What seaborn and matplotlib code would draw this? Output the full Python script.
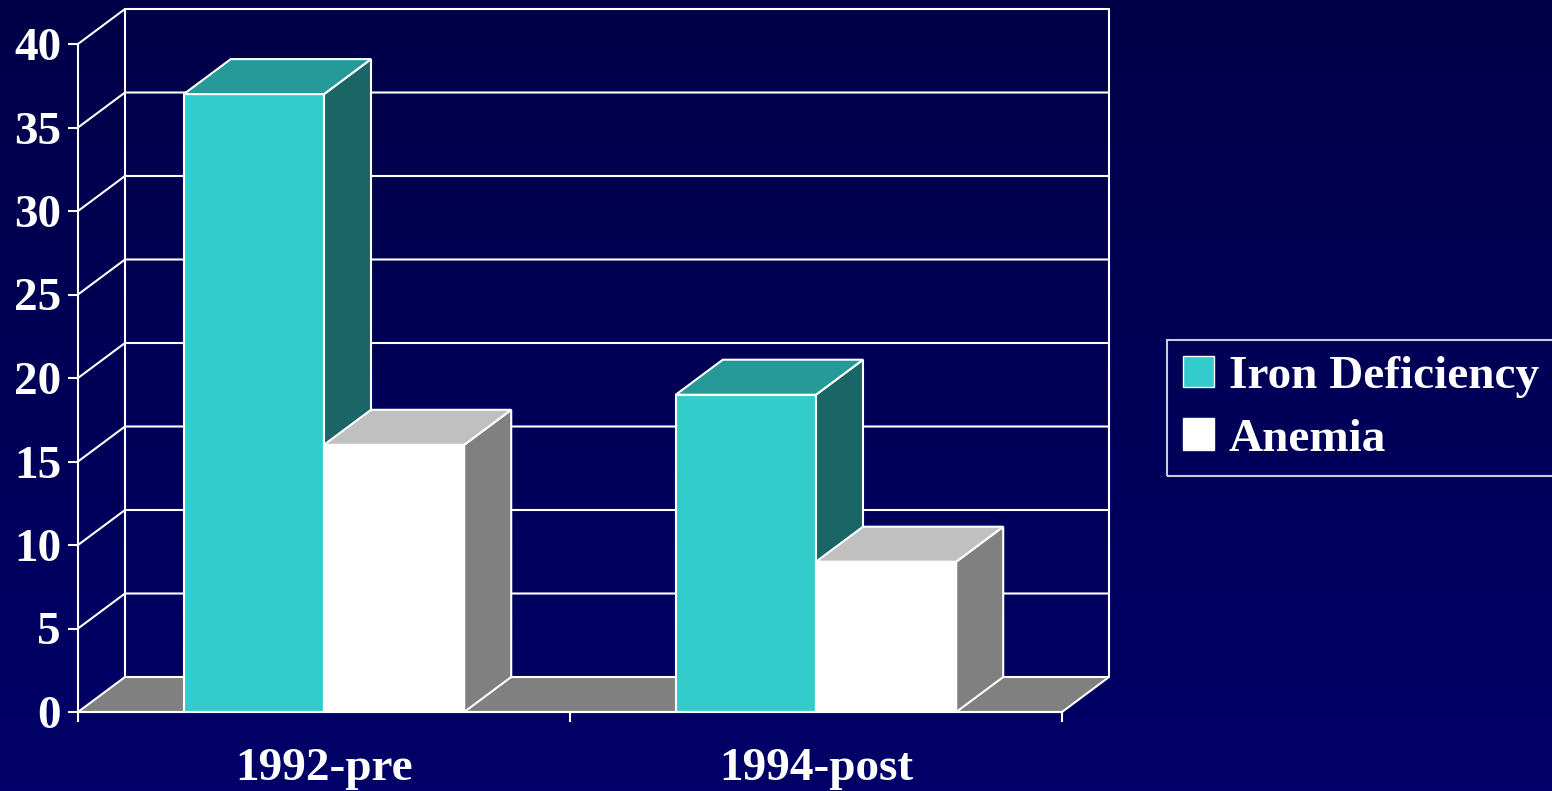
import numpy as np
import pandas as pd
import matplotlib
matplotlib.use("Agg")
import matplotlib.pyplot as plt
import seaborn as sns
from matplotlib.patches import Polygon, Patch
from matplotlib.colors import LinearSegmentedColormap

# ---- data -------------------------------------------------------------
years = ["1992-pre", "1994-post"]
series = ["Iron Deficiency", "Anemia"]
iron_deficiency = [37, 19]
anemia = [16, 9]
y_ticks = [0, 5, 10, 15, 20, 25, 30, 35, 40]

front_colors = {"Iron Deficiency": "#33CCCC", "Anemia": "#FFFFFF"}
top_colors = {"Iron Deficiency": "#269999", "Anemia": "#C0C0C0"}
side_colors = {"Iron Deficiency": "#1A6666", "Anemia": "#808080"}

df = pd.DataFrame({
    "year": years * 2,
    "series": [series[0]] * len(years) + [series[1]] * len(years),
    "value": iron_deficiency + anemia,
})

# ---- style ------------------------------------------------------------
sns.set_theme(style="white")
plt.rcParams["font.family"] = ["Liberation Serif", "DejaVu Serif"]
plt.rcParams["font.weight"] = "bold"
FS = 34
LW = 1.5

W, H, DPI = 1552, 791, 100
fig = plt.figure(figsize=(W / DPI, H / DPI), dpi=DPI)

# navy gradient backdrop
bg = fig.add_axes([0, 0, 1, 1], zorder=-10)
grad = np.linspace(0, 1, 256).reshape(-1, 1)
cmap = LinearSegmentedColormap.from_list("navy", ["#000048", "#000068"])
bg.imshow(grad, aspect="auto", cmap=cmap, extent=[0, 1, 0, 1], origin="upper")
bg.axis("off")

# front plane of the chart
left_px, right_px, base_px, top_px = 78, 1062, 712, 44
ax = fig.add_axes([left_px / W, (H - base_px) / H,
                   (right_px - left_px) / W, (base_px - top_px) / H])
ax.patch.set_alpha(0)

sns.barplot(data=df, x="year", y="value", hue="series", order=years,
            hue_order=series, palette=front_colors, saturation=1,
            width=0.57, edgecolor="white", linewidth=LW, legend=False, ax=ax)

XMIN, XMAX, YMAX = -0.5, 1.5, 40
ax.set_xlim(XMIN, XMAX)
ax.set_ylim(0, YMAX)

# depth offset of the 3-D box, expressed in data units
px_per_x = (right_px - left_px) / (XMAX - XMIN)
px_per_y = (base_px - top_px) / YMAX
DX = 47 / px_per_x
DY = 35 / px_per_y

# back wall + side wall gridlines
for v in y_ticks[1:]:
    ax.plot([XMIN, XMIN + DX, XMAX + DX], [v, v + DY, v + DY],
            color="white", lw=LW, clip_on=False, zorder=0.5)
for xv in (XMIN + DX, XMAX + DX):
    ax.plot([xv, xv], [DY, YMAX + DY], color="white", lw=LW,
            clip_on=False, zorder=0.5)

# floor
ax.add_patch(Polygon([(XMIN, 0), (XMAX, 0), (XMAX + DX, DY), (XMIN + DX, DY)],
                     closed=True, facecolor="#808080", edgecolor="white",
                     lw=LW, clip_on=False, zorder=1))

# extrude each seaborn bar into a box (top + right side faces)
bars = []
for name, container in zip(series, ax.containers):
    for p in container.patches:
        bars.append((p.get_x(), name, p))
bars.sort(key=lambda t: t[0])
for i, (_, name, p) in enumerate(bars):
    z = 2 + i * 0.1
    p.set_zorder(z)
    x0, w, h = p.get_x(), p.get_width(), p.get_height()
    top = [(x0, h), (x0 + w, h), (x0 + w + DX, h + DY), (x0 + DX, h + DY)]
    side = [(x0 + w, 0), (x0 + w + DX, DY), (x0 + w + DX, h + DY), (x0 + w, h)]
    ax.add_patch(Polygon(side, closed=True, facecolor=side_colors[name],
                         edgecolor="white", lw=LW, clip_on=False, zorder=z))
    ax.add_patch(Polygon(top, closed=True, facecolor=top_colors[name],
                         edgecolor="white", lw=LW, clip_on=False, zorder=z))

# axes, ticks and labels
for s in ("top", "right"):
    ax.spines[s].set_visible(False)
for s in ("left", "bottom"):
    ax.spines[s].set_color("white")
    ax.spines[s].set_linewidth(LW)
    ax.spines[s].set_zorder(3)

ax.set_yticks(y_ticks)
ax.set_yticklabels([str(v) for v in y_ticks])
ax.tick_params(axis="y", colors="white", length=7.2, width=LW, pad=5,
               labelsize=FS, left=True)
ax.set_xticks([XMIN, 0.5, XMAX])
ax.set_xticklabels([])
ax.set_xticks([0, 1], minor=True)
ax.set_xticklabels(years, minor=True)
ax.tick_params(axis="x", which="major", colors="white", length=7.2,
               width=LW, bottom=True)
ax.tick_params(axis="x", which="minor", colors="white", length=0, pad=26,
               labelsize=FS, bottom=True)
for lbl in ax.get_yticklabels() + ax.get_xticklabels(minor=True):
    lbl.set_fontweight("bold")
ax.set_xlabel("")
ax.set_ylabel("")

# legend
handles = [Patch(facecolor=front_colors[s], edgecolor="white", linewidth=1)
           for s in series]
leg = fig.legend(handles, series, loc="upper left",
                 bbox_to_anchor=(1167 / W, 1 - 340 / H),
                 bbox_transform=fig.transFigure, frameon=True, fancybox=False,
                 edgecolor="white", facecolor="none", labelcolor="white",
                 prop={"family": ["Liberation Serif", "DejaVu Serif"],
                       "weight": "bold", "size": FS},
                 handlelength=0.66, handleheight=0.66, handletextpad=0.32,
                 borderpad=0.33, labelspacing=0.43, borderaxespad=0)
leg.get_frame().set_linewidth(LW)

fig.savefig("out.png", dpi=DPI)
